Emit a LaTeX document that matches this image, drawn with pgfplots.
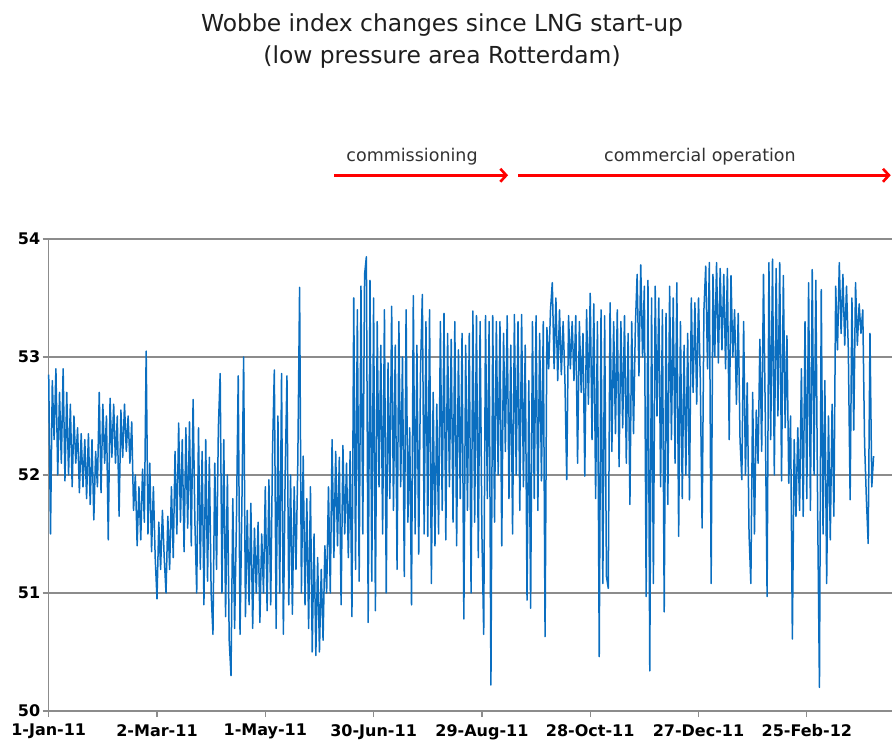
\documentclass[border=0pt]{standalone}
\usepackage{pgfplots}
\pgfplotsset{compat=1.18}
\usepackage{pgfplotstable}
\usepackage{fontspec}
\setmainfont{DejaVu Sans}
\usetikzlibrary{arrows.meta}
\definecolor{wblue}{RGB}{10,110,192}
\definecolor{axgray}{RGB}{140,140,140}
\definecolor{txtgray}{RGB}{50,50,50}
\pgfplotstableread[header=false,row sep=\\]{
52.85\\51.5\\52.8\\52.3\\52.9\\52.0\\52.7\\52.1\\52.9\\51.95\\
52.7\\52.0\\52.6\\51.9\\52.5\\52.1\\52.4\\51.85\\52.35\\51.9\\
52.3\\51.8\\52.35\\51.75\\52.3\\51.62\\52.2\\51.9\\52.7\\51.85\\
52.6\\52.1\\52.5\\51.45\\52.65\\52.15\\52.6\\52.1\\52.5\\51.65\\
52.55\\52.15\\52.6\\52.2\\52.5\\52.1\\52.45\\51.7\\52.0\\51.4\\
51.9\\51.45\\52.05\\51.6\\53.05\\51.5\\52.1\\51.35\\51.9\\51.3\\
50.95\\51.6\\51.2\\51.7\\51.3\\51.0\\51.65\\51.2\\51.9\\51.3\\
52.2\\51.5\\52.44\\51.6\\52.3\\51.35\\52.4\\51.55\\52.45\\51.4\\
52.64\\51.6\\51.0\\52.4\\51.2\\52.2\\50.9\\52.3\\51.1\\52.15\\
51.0\\50.65\\52.1\\51.2\\52.4\\52.86\\51.0\\52.3\\50.8\\52.0\\
50.6\\50.3\\51.8\\50.7\\51.6\\52.84\\50.65\\51.7\\53.0\\50.8\\
51.7\\50.9\\51.76\\50.7\\51.55\\51.0\\51.6\\50.75\\51.5\\51.0\\
51.9\\50.85\\51.96\\50.9\\52.2\\52.89\\50.7\\52.5\\51.0\\52.86\\
50.65\\52.0\\52.84\\50.9\\52.0\\50.82\\51.9\\51.2\\52.1\\53.59\\
51.0\\52.16\\50.9\\51.8\\50.7\\51.9\\50.5\\51.5\\50.47\\51.3\\
50.5\\51.2\\50.6\\51.4\\51.0\\51.9\\51.0\\52.3\\51.3\\52.2\\
51.4\\52.15\\50.9\\52.25\\51.5\\52.1\\51.3\\52.2\\50.8\\53.5\\
51.2\\53.4\\51.1\\53.6\\51.5\\53.7\\53.85\\50.75\\53.65\\51.1\\
53.5\\50.85\\53.3\\51.9\\53.1\\51.5\\53.4\\51.0\\52.95\\51.8\\
53.43\\51.7\\53.1\\51.2\\53.3\\51.9\\53.0\\51.14\\53.4\\51.6\\
52.4\\50.9\\53.52\\51.5\\53.1\\51.33\\52.9\\53.53\\51.5\\53.3\\
51.48\\53.4\\51.08\\52.7\\51.4\\52.6\\51.5\\53.3\\51.7\\53.37\\
51.45\\53.2\\51.9\\53.15\\51.6\\53.3\\51.4\\53.06\\51.8\\53.2\\
50.78\\53.1\\51.7\\53.2\\51.0\\53.39\\51.6\\53.35\\51.3\\53.3\\
51.5\\50.65\\53.35\\51.8\\53.3\\50.22\\53.35\\51.6\\53.3\\52.0\\
53.3\\51.4\\53.2\\52.2\\53.35\\51.8\\53.1\\51.5\\53.36\\52.0\\
53.3\\51.7\\53.36\\51.9\\53.1\\50.94\\52.8\\50.87\\53.3\\51.8\\
53.35\\51.7\\53.2\\51.95\\53.3\\50.63\\53.25\\52.9\\53.4\\53.63\\
52.9\\53.5\\52.8\\53.4\\52.85\\53.3\\52.8\\51.96\\53.35\\52.9\\
53.3\\52.8\\53.35\\52.1\\53.3\\52.7\\53.2\\51.99\\53.4\\52.6\\
53.54\\52.3\\53.45\\51.8\\53.3\\50.46\\53.4\\51.08\\53.35\\51.14\\
51.04\\53.46\\52.2\\53.3\\52.35\\53.4\\52.07\\53.3\\52.4\\53.35\\
52.1\\53.2\\51.75\\53.3\\52.35\\53.25\\53.7\\52.84\\53.78\\53.0\\
53.6\\50.97\\53.65\\50.34\\53.5\\51.08\\53.6\\52.5\\53.5\\51.9\\
53.4\\50.84\\53.37\\51.75\\53.6\\52.3\\53.5\\52.1\\53.63\\51.48\\
53.3\\51.8\\53.1\\52.0\\53.2\\51.79\\53.5\\52.7\\53.46\\52.6\\
53.5\\52.8\\51.55\\53.4\\53.77\\52.9\\53.8\\51.08\\53.7\\53.0\\
53.8\\52.95\\53.75\\53.06\\53.7\\52.9\\53.75\\52.3\\53.69\\53.0\\
53.4\\52.6\\53.37\\52.3\\51.96\\53.3\\52.0\\52.78\\51.5\\51.08\\
52.7\\51.5\\52.55\\52.1\\53.15\\52.2\\53.7\\52.5\\50.97\\53.8\\
52.3\\53.83\\52.0\\53.75\\52.5\\53.8\\51.95\\53.69\\52.4\\53.18\\
51.93\\52.5\\50.61\\52.3\\51.65\\52.4\\51.7\\52.9\\51.65\\53.3\\
51.8\\53.63\\51.7\\53.74\\52.0\\53.65\\51.7\\50.2\\53.57\\51.5\\
52.8\\51.08\\52.5\\51.45\\52.6\\51.65\\53.6\\53.06\\53.8\\53.2\\
53.7\\53.1\\53.6\\53.06\\51.79\\53.5\\52.38\\53.63\\53.1\\53.45\\
53.2\\53.4\\52.27\\51.8\\51.42\\53.2\\51.9\\52.16\\
}\wobbe
\begin{document}
\begin{tikzpicture}
\useasboundingbox (0,0) rectangle (892bp,742bp);
\node[font=\fontsize{23.4bp}{27bp}\selectfont, txtgray!60!black] at (442bp,717bp) {Wobbe index changes since LNG start-up};
\node[font=\fontsize{23.4bp}{27bp}\selectfont, txtgray!60!black] at (442bp,685bp) {(low pressure area Rotterdam)};
\begin{axis}[
  scale only axis,
  width=843.3bp, height=472bp,
  at={(48.7bp,31bp)}, anchor=south west,
  xmin=0, xmax=467.2, ymin=50, ymax=54,
  axis x line*=bottom, axis y line*=left,
  xtick={0,60,...,420},
  xticklabels={1-Jan-11,2-Mar-11,1-May-11,30-Jun-11,29-Aug-11,28-Oct-11,27-Dec-11,25-Feb-12},
  ytick={50,51,...,54},
  tick align=outside,
  major tick length=6bp,
  tick style={axgray, line width=1.2bp},
  axis line style={axgray, line width=1.4bp},
  ymajorgrids,
  major grid style={axgray, line width=1.4bp},
  /pgf/number format/assume math mode=true,
  ticklabel style={font=\fontsize{16bp}{19bp}\selectfont\bfseries, black},
  xticklabel style={yshift=-6bp, inner ysep=1bp},
  yticklabel style={xshift=1bp, inner ysep=1bp},
  clip=false,
]
\addplot[wblue, line width=1.5bp, line join=round] table[x expr=\coordindex, y index=0] {\wobbe};
\draw[red, line width=2.6bp, -{Straight Barb[length=6bp,width=13bp,line width=2.6bp]}] (axis cs:158.1,54.54) -- (axis cs:254.5,54.54);
\draw[red, line width=2.6bp, -{Straight Barb[length=6bp,width=13bp,line width=2.6bp]}] (axis cs:260.0,54.54) -- (axis cs:466.5,54.54);
\node[font=\fontsize{17.5bp}{20bp}\selectfont, txtgray] at (axis cs:201.3,54.70) {commissioning};
\node[font=\fontsize{17.5bp}{20bp}\selectfont, txtgray] at (axis cs:360.8,54.70) {commercial operation};
\end{axis}
\end{tikzpicture}
\end{document}
